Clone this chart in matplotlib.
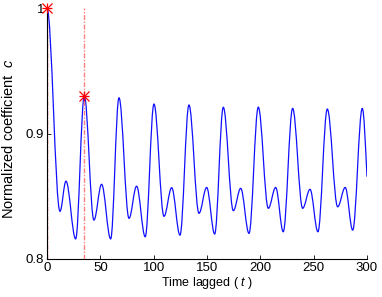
import numpy as np
import matplotlib
matplotlib.use("Agg")
import matplotlib.pyplot as plt
from matplotlib.path import Path
from matplotlib.patches import PathPatch

plt.rcParams['font.family'] = ['Liberation Sans', 'DejaVu Sans']
plt.rcParams['mathtext.fontset'] = 'custom'
plt.rcParams['mathtext.rm'] = 'Liberation Sans'
plt.rcParams['mathtext.it'] = 'Liberation Sans:italic'

# turning points of the correlation curve (lag, value)
lag_pts = [0, 12.2, 17.8, 26.9, 35, 44, 51.2, 59.7, 67.5, 76.9, 84, 92.1,
           100.3, 109.7, 116.9, 124.7, 133.1, 142.5, 149.7, 157.2, 165.3,
           174.7, 181.6, 189.4, 198.1, 207.5, 214.4, 221.5, 230.3, 239.7,
           246.6, 254, 262.8, 272.5, 279.6, 286.6, 295.6]
coef_pts = [1.0, 0.838, 0.862, 0.816, 0.930, 0.831, 0.8595, 0.816, 0.9285,
            0.8324, 0.858, 0.8177, 0.9235, 0.834, 0.8568, 0.819, 0.9227,
            0.8364, 0.857, 0.8199, 0.9209, 0.8385, 0.8563, 0.8204, 0.921,
            0.8404, 0.857, 0.8217, 0.920, 0.8404, 0.8555, 0.8217, 0.9195,
            0.8416, 0.857, 0.823, 0.920]
lag_end, coef_end = 300, 0.8656

# marked peaks
peak_lags = [0, 35]
peak_vals = [1.0, 0.930]

fig = plt.figure(figsize=(3.82, 2.97), dpi=100)
ax = fig.add_axes([0.123, 0.128, 0.8377, 0.845])

# smooth curve: cubic bezier segments with flat tangents at turning points
k = 0.364
verts = [(lag_pts[0], coef_pts[0])]
codes = [Path.MOVETO]
for i in range(1, len(lag_pts)):
    t0, c0 = lag_pts[i - 1], coef_pts[i - 1]
    t1, c1 = lag_pts[i], coef_pts[i]
    dt = t1 - t0
    verts += [(t0 + k * dt, c0), (t1 - k * dt, c1), (t1, c1)]
    codes += [Path.CURVE4] * 3
t0, c0 = lag_pts[-1], coef_pts[-1]
dt = lag_end - t0
verts += [(t0 + k * dt, c0), (lag_end - dt / 3, coef_end + (c0 - coef_end) * 0.45),
          (lag_end, coef_end)]
codes += [Path.CURVE4] * 3
ax.add_patch(PathPatch(Path(verts, codes), fill=False, edgecolor='#1010ff', lw=0.9))

dashdot = (0, (3.5, 1.2, 1.0, 1.2))
ax.axvline(peak_lags[0], color='#e03030', ls=dashdot, lw=1.0)
ax.axvline(peak_lags[1], color='#ff8080', ls=dashdot, lw=1.0)
for m in ['+', 'x']:
    ax.plot(peak_lags, peak_vals, ls='none', marker=m, color='red',
            markersize=7, mew=0.9, clip_on=False, zorder=5)

ax.set_xlim(0, 300)
ax.set_ylim(0.8, 1.0)
ax.set_xticks([0, 50, 100, 150, 200, 250, 300])
ax.set_yticks([0.8, 0.9, 1.0])
ax.set_yticklabels(['0.8', '0.9', '1'])
ax.tick_params(direction='in', length=3, width=0.6, labelsize=9.5, pad=2)
ax.spines['top'].set_visible(False)
ax.spines['right'].set_visible(False)
ax.set_xlabel('Time lagged ( $t$ )', fontsize=9, labelpad=1)
ax.set_ylabel('Normalized coefficient  $c$', fontsize=10.5, labelpad=2)
ax.yaxis.set_label_coords(-0.098, 0.48)

fig.savefig('out.png', dpi=100)
